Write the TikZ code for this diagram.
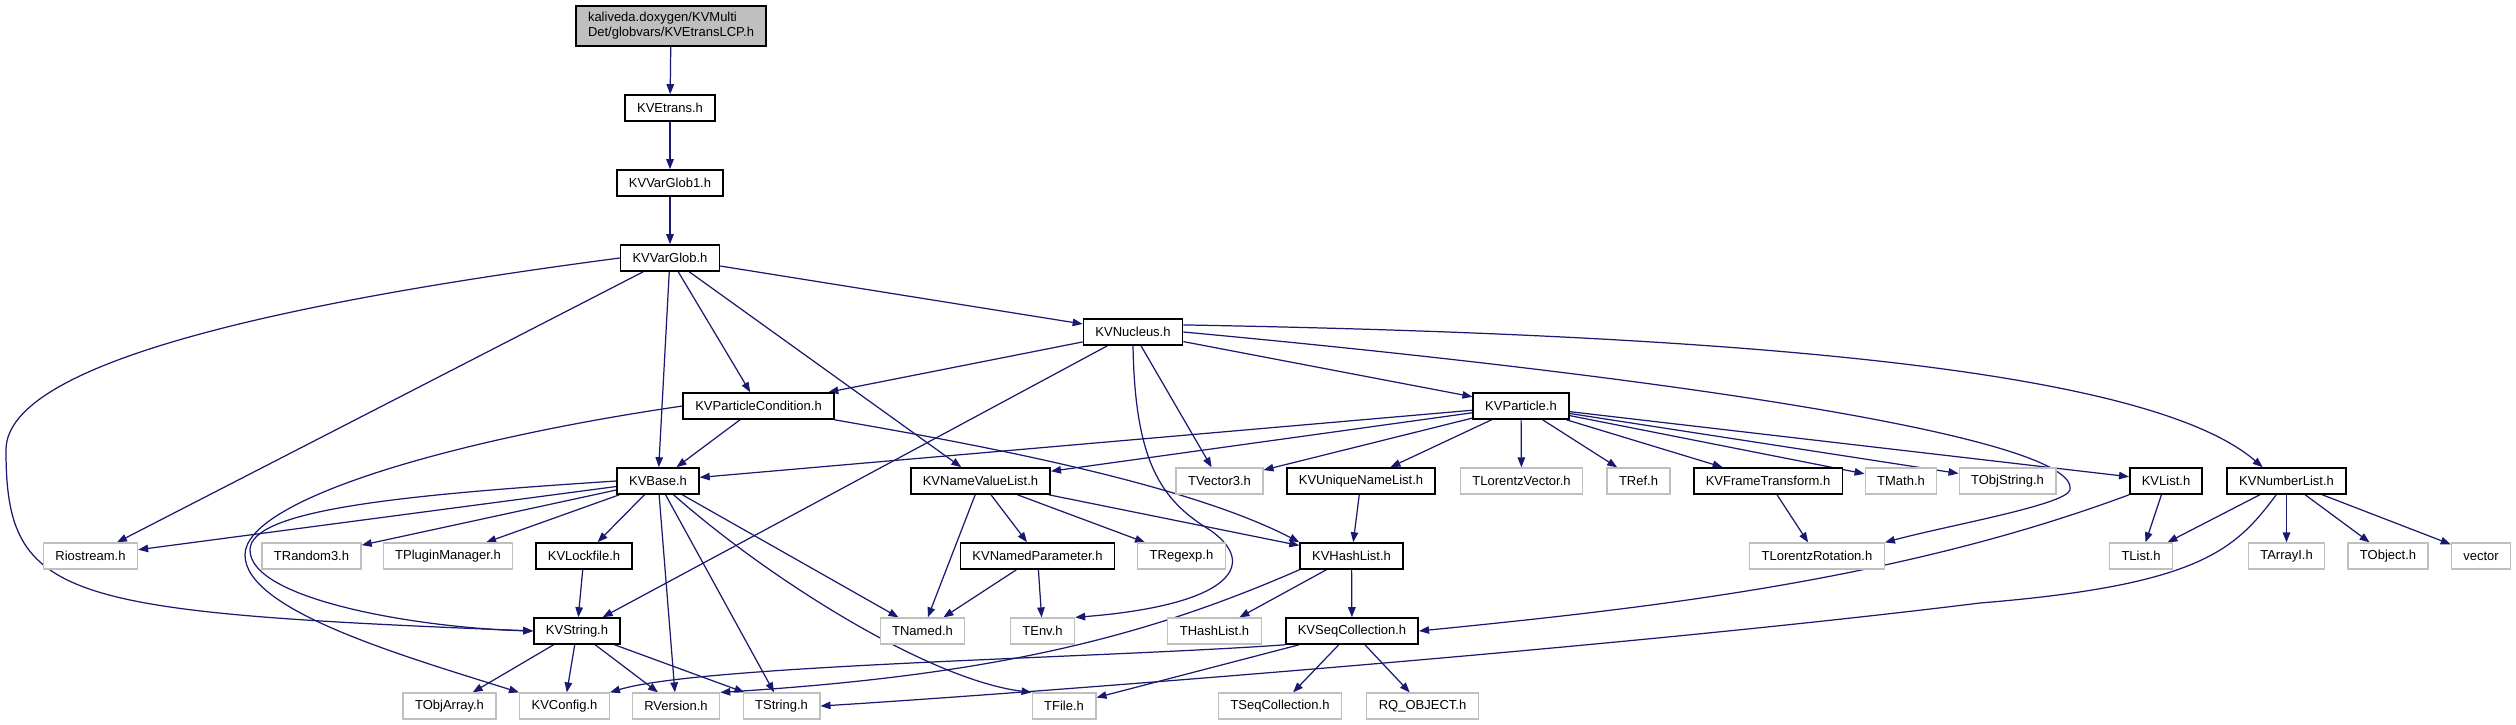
\documentclass[tikz,border=0pt]{standalone}
\usepackage{fontspec}
\setmainfont{Liberation Sans}
\usepackage{tikz}
\usetikzlibrary{arrows.meta}
\pgfdeclarelayer{edgelayer}
\pgfdeclarelayer{nodelayer}
\pgfsetlayers{edgelayer,nodelayer,main}
\definecolor{navy}{HTML}{191970}
\definecolor{boxgrey}{HTML}{BFBFBF}
\tikzstyle{edge}=[draw=navy, line width=0.7pt, -{Triangle[length=0.2cm, width=0.15cm]}]
\tikzstyle{header}=[rectangle, fill=white, draw=black, line width=0.9pt, minimum height=0.52cm, inner xsep=0.24cm, inner ysep=0pt, font=\fontsize{7.4}{8.6}\selectfont]
\tikzstyle{sysheader}=[style=header, draw=boxgrey, line width=0.7pt]
\tikzstyle{mainfile}=[style=header, fill=boxgrey, align=left, minimum height=0.8cm]

\begin{document}
\begin{tikzpicture}
				\useasboundingbox (0, 0) rectangle (50.32, 14.48);
				\begin{pgfonlayer}{nodelayer}
					\node [style=mainfile] (0) at (13.42, 13.96) {kaliveda.doxygen/KVMulti\\Det/globvars/KVEtransLCP.h};
					\node [style=header] (1) at (13.40, 12.32) {KVEtrans.h};
					\node [style=header] (2) at (13.40, 10.82) {KVVarGlob1.h};
					\node [style=header] (3) at (13.40, 9.32) {KVVarGlob.h};
					\node [style=header] (4) at (22.66, 7.84) {KVNucleus.h};
					\node [style=header] (5) at (15.17, 6.36) {KVParticleCondition.h};
					\node [style=header] (6) at (30.42, 6.36) {KVParticle.h};
					\node [style=header] (7) at (13.16, 4.86) {KVBase.h};
					\node [style=header] (8) at (19.61, 4.86) {KVNameValueList.h};
					\node [style=sysheader] (9) at (24.39, 4.86) {TVector3.h};
					\node [style=header] (10) at (27.22, 4.86) {KVUniqueNameList.h};
					\node [style=sysheader] (11) at (30.43, 4.86) {TLorentzVector.h};
					\node [style=sysheader] (12) at (32.77, 4.86) {TRef.h};
					\node [style=header] (13) at (35.36, 4.86) {KVFrameTransform.h};
					\node [style=sysheader] (14) at (38.02, 4.86) {TMath.h};
					\node [style=sysheader] (15) at (40.15, 4.86) {TObjString.h};
					\node [style=header] (16) at (43.32, 4.86) {KVList.h};
					\node [style=header] (17) at (45.73, 4.86) {KVNumberList.h};
					\node [style=sysheader] (18) at (1.81, 3.36) {Riostream.h};
					\node [style=sysheader] (19) at (6.23, 3.36) {TRandom3.h};
					\node [style=sysheader] (20) at (8.96, 3.36) {TPluginManager.h};
					\node [style=header] (21) at (11.68, 3.36) {KVLockfile.h};
					\node [style=header] (22) at (20.75, 3.36) {KVNamedParameter.h};
					\node [style=sysheader] (23) at (23.63, 3.36) {TRegexp.h};
					\node [style=header] (24) at (27.03, 3.36) {KVHashList.h};
					\node [style=sysheader] (25) at (36.34, 3.36) {TLorentzRotation.h};
					\node [style=sysheader] (26) at (42.82, 3.36) {TList.h};
					\node [style=sysheader] (27) at (45.73, 3.36) {TArrayI.h};
					\node [style=sysheader] (28) at (47.76, 3.36) {TObject.h};
					\node [style=sysheader] (29) at (49.62, 3.36) {vector};
					\node [style=header] (30) at (11.54, 1.86) {KVString.h};
					\node [style=sysheader] (31) at (18.45, 1.86) {TNamed.h};
					\node [style=sysheader] (32) at (20.85, 1.86) {TEnv.h};
					\node [style=sysheader] (33) at (24.29, 1.86) {THashList.h};
					\node [style=header] (34) at (27.04, 1.86) {KVSeqCollection.h};
					\node [style=sysheader] (35) at (8.99, 0.36) {TObjArray.h};
					\node [style=sysheader] (36) at (11.29, 0.36) {KVConfig.h};
					\node [style=sysheader] (37) at (13.52, 0.36) {RVersion.h};
					\node [style=sysheader] (38) at (15.63, 0.36) {TString.h};
					\node [style=sysheader] (39) at (21.28, 0.36) {TFile.h};
					\node [style=sysheader] (40) at (25.60, 0.36) {TSeqCollection.h};
					\node [style=sysheader] (41) at (28.45, 0.36) {RQ\_OBJECT.h};
				\end{pgfonlayer}
				\begin{pgfonlayer}{edgelayer}
					\draw [style=edge] (0) to (1);
					\draw [style=edge] (1) to (2);
					\draw [style=edge] (2) to (3);
					\draw [style=edge] (3) to (4);
					\draw [style=edge] (3) to (5);
					\draw [style=edge] (3) to (7);
					\draw [style=edge] (3) to (8);
					\draw [style=edge] (3) to (18);
					\draw [style=edge] (3.west) .. controls (6.0, 8.48) and (0.12, 7.28) .. (0.12, 5.48) .. controls (0.12, 2.48) and (1.2, 2.24) .. (30.west);
					\draw [style=edge] (4) to (5);
					\draw [style=edge] (4) to (6);
					\draw [style=edge] (4) to (9);
					\draw [style=edge] (4) to (30);
					\draw [style=edge] (4.south) .. controls (22.7, 5.28) and (23.2, 4.48) .. (24.2, 3.88) .. controls (25.2, 3.18) and (24.6, 2.38) .. (32.north east);
					\draw [style=edge] (4.east) .. controls (34.0, 6.88) and (41.6, 5.68) .. (41.4, 4.68) .. controls (41.3, 4.38) and (39.0, 3.98) .. (25.north east);
					\draw [style=edge] (4.8) .. controls (35.0, 7.78) and (43.0, 7.08) .. (17.150);
					\draw [style=edge] (5) to (7);
					\draw [style=edge] (5.south east) .. controls (19.0, 5.68) and (23.6, 4.88) .. (24.north west);
					\draw [style=edge] (5.west) .. controls (9.0, 5.68) and (4.9, 4.48) .. (4.9, 3.38) .. controls (4.9, 2.28) and (8.0, 1.38) .. (36.north west);
					\draw [style=edge] (6) to (7);
					\draw [style=edge] (6) to (8);
					\draw [style=edge] (6) to (9);
					\draw [style=edge] (6) to (10);
					\draw [style=edge] (6) to (11);
					\draw [style=edge] (6) to (12);
					\draw [style=edge] (6) to (13);
					\draw [style=edge] (6) to (14);
					\draw [style=edge] (6) to (15);
					\draw [style=edge] (6) to (16);
					\draw [style=edge] (7) to (18);
					\draw [style=edge] (7) to (19);
					\draw [style=edge] (7) to (20);
					\draw [style=edge] (7) to (21);
					\draw [style=edge] (7.west) .. controls (8.0, 4.58) and (5.0, 4.28) .. (5.0, 3.48) .. controls (5.0, 2.48) and (8.4, 1.92) .. (30.west);
					\draw [style=edge] (7) to (31);
					\draw [style=edge] (7) to (37);
					\draw [style=edge] (7) to (38);
					\draw [style=edge] (7) .. controls (15.4, 2.88) and (18.6, 0.88) .. (39.north west);
					\draw [style=edge] (8) to (31);
					\draw [style=edge] (8) to (22);
					\draw [style=edge] (8) to (23);
					\draw [style=edge] (8) to (24);
					\draw [style=edge] (10) to (24);
					\draw [style=edge] (13) to (25);
					\draw [style=edge] (16) to (26);
					\draw [style=edge] (16.south west) .. controls (38.0, 2.88) and (33.0, 2.32) .. (34.east);
					\draw [style=edge] (17) to (26);
					\draw [style=edge] (17) to (27);
					\draw [style=edge] (17) to (28);
					\draw [style=edge] (17) to (29);
					\draw [style=edge] (17) .. controls (44.7, 3.48) and (44.0, 2.78) .. (39.6, 2.42) .. controls (32.0, 1.48) and (20.0, 0.58) .. (38.east);
					\draw [style=edge] (21) to (30);
					\draw [style=edge] (22) to (31);
					\draw [style=edge] (22) to (32);
					\draw [style=edge] (24) to (33);
					\draw [style=edge] (24) to (34);
					\draw [style=edge] (24.south west) .. controls (23.0, 1.78) and (20.0, 0.98) .. (37.north east);
					\draw [style=edge] (30) to (35);
					\draw [style=edge] (30) to (36);
					\draw [style=edge] (30) to (37);
					\draw [style=edge] (30) to (38);
					\draw [style=edge] (34.south west) .. controls (22.0, 1.32) and (14.0, 1.18) .. (36.north east);
					\draw [style=edge] (34) to (39);
					\draw [style=edge] (34) to (40);
					\draw [style=edge] (34) to (41);
				\end{pgfonlayer}
\end{tikzpicture}
\end{document}
